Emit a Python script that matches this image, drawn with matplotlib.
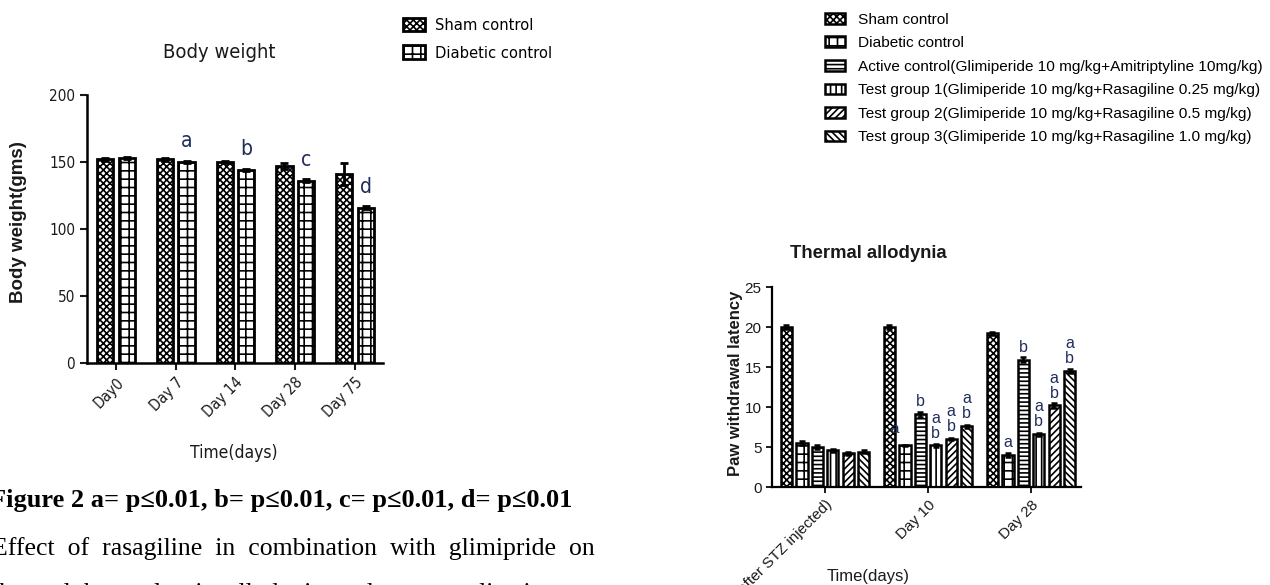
import numpy as np
import matplotlib.pyplot as plt

plt.rcParams['hatch.linewidth'] = 1.2
narrow = ['DejaVu Sans', 'Liberation Sans']
arial = ['Liberation Sans', 'DejaVu Sans']
serif = ['Liberation Serif', 'DejaVu Serif']
ink = '#1a1a1a'
lettc = '#1f2d5c'

# body weight data
bw_days = ['Day0', 'Day 7', 'Day 14', 'Day 28', 'Day 75']
bw_sham = [152, 152, 150, 147, 141]
bw_sham_err = [1, 1, 1, 2, 8]
bw_diab = [153, 150, 144, 136, 116]
bw_diab_err = [1, 1, 1, 1, 1]
bw_letters = ['', 'a', 'b', 'c', 'd']

# thermal allodynia data
ta_days = ['Day 0(after STZ injected)', 'Day 10', 'Day 28']
ta_groups = ['Sham control', 'Diabetic control',
             'Active control(Glimiperide 10 mg/kg+Amitriptyline 10mg/kg)',
             'Test group 1(Glimiperide 10 mg/kg+Rasagiline 0.25 mg/kg)',
             'Test group 2(Glimiperide 10 mg/kg+Rasagiline 0.5 mg/kg)',
             'Test group 3(Glimiperide 10 mg/kg+Rasagiline 1.0 mg/kg)']
ta_vals = [[20.0, 20.0, 19.2],
           [5.5, 5.2, 4.0],
           [5.0, 9.1, 15.9],
           [4.6, 5.2, 6.6],
           [4.2, 6.0, 10.2],
           [4.4, 7.6, 14.5]]
ta_err = [[0.2, 0.2, 0.2],
          [0.2, 0.1, 0.3],
          [0.2, 0.3, 0.3],
          [0.2, 0.2, 0.2],
          [0.2, 0.1, 0.3],
          [0.2, 0.2, 0.2]]
ta_letters = [['', '', ''],
              ['', '', 'a'],
              ['', 'b', 'b'],
              ['', 'a\nb', 'a\nb'],
              ['', 'a\nb', 'a\nb'],
              ['', 'a\nb', 'a\nb']]
hatches = ['xxxxx', '++', '----', '|||', '/////', '\\\\\\\\\\']

fig = plt.figure(figsize=(12.7, 5.85), dpi=100)

def nfont(size, weight='normal'):
    return dict(family=narrow, stretch='condensed', size=size, weight=weight)

# ---- left: body weight
ax = fig.add_axes([0.0685, 0.3795, 0.2331, 0.4581])
x = np.arange(len(bw_days))
w = 0.27
ax.bar(x - 0.18, bw_sham, w, yerr=bw_sham_err, color='white', edgecolor='black',
       linewidth=2, hatch=hatches[0], label='Sham control',
       error_kw=dict(elinewidth=2, capsize=3, capthick=2))
ax.bar(x + 0.18, bw_diab, w, yerr=bw_diab_err, color='white', edgecolor='black',
       linewidth=2, hatch=hatches[1], label='Diabetic control',
       error_kw=dict(elinewidth=2, capsize=3, capthick=2))
for i, l in enumerate(bw_letters):
    if l:
        ax.text(x[i] + 0.18, bw_diab[i] + 8, l, ha='center', va='bottom',
                color=lettc, **nfont(15))
ax.set_xlim(-0.486, 4.47)
ax.set_ylim(0, 200)
ax.set_yticks([0, 50, 100, 150, 200])
ax.set_xticks(x)
ax.set_xticklabels(bw_days, rotation=45, ha='right', rotation_mode='anchor', **nfont(11))
for t in ax.get_yticklabels():
    t.set_family(narrow)
    t.set_stretch('condensed')
    t.set_fontsize(11)
ax.spines[['top', 'right']].set_visible(False)
ax.spines[['left', 'bottom']].set_linewidth(1.8)
ax.tick_params(width=1.5, length=5, colors=ink)
fig.text(0.0142, 0.62, 'Body weight(gms)', rotation=90, ha='center', va='center',
         fontsize=13.5, fontweight='bold', family=arial, color=ink)
fig.text(0.1843, 0.226, 'Time(days)', ha='center', va='center', color=ink, **nfont(12.5))
fig.text(0.1724, 0.911, 'Body weight', ha='center', va='center', color=ink, **nfont(14.5))
fig.legend(*ax.get_legend_handles_labels(), loc='upper left',
           bbox_to_anchor=(0.306, 0.995), frameon=False,
           prop=dict(family=narrow, stretch='condensed', size=11.8),
           handlelength=1.3, handleheight=0.9, labelspacing=0.75, handletextpad=0.6)

# ---- right: thermal allodynia
ax2 = fig.add_axes([0.6079, 0.1675, 0.2433, 0.3419])
xg = np.arange(len(ta_days))
step = 0.15
bw2 = 0.11
handles = []
for k in range(len(ta_groups)):
    pos = xg + (k - 2.5) * step
    b = ax2.bar(pos, ta_vals[k], bw2, yerr=ta_err[k], color='white', edgecolor='black',
                linewidth=1.8, hatch=hatches[k], label=ta_groups[k],
                error_kw=dict(elinewidth=1.8, capsize=2.5, capthick=1.8))
    handles.append(b)
    for j in range(len(ta_days)):
        l = ta_letters[k][j]
        if l:
            ax2.text(pos[j], ta_vals[k][j] + 0.6, l, ha='center', va='bottom',
                     fontsize=11.5, color=lettc, family=arial, linespacing=1.0)
ax2.text(1 - 2.5 * step + 0.05, 6.4, 'a', ha='center', va='bottom', fontsize=11,
         color=lettc, family=arial)
ax2.set_xlim(-0.515, 2.485)
ax2.set_ylim(0, 25)
ax2.set_yticks([0, 5, 10, 15, 20, 25])
ax2.set_xticks(xg)
ax2.set_xticklabels(ta_days, rotation=45, ha='right', rotation_mode='anchor',
                    family=arial, fontsize=11)
for t in ax2.get_yticklabels():
    t.set_family(arial)
    t.set_fontsize(11)
ax2.spines[['top', 'right']].set_visible(False)
ax2.spines[['left', 'bottom']].set_linewidth(1.6)
ax2.tick_params(width=1.4, length=4, colors=ink)
fig.text(0.5795, 0.345, 'Paw withdrawal latency', rotation=90, ha='center', va='center',
         fontsize=12, fontweight='bold', family=arial, color=ink)
fig.text(0.6835, 0.015, 'Time(days)', ha='center', va='center', fontsize=12,
         family=arial, color=ink)
fig.text(0.684, 0.566, 'Thermal allodynia', ha='center', va='center', fontsize=13.3,
         fontweight='bold', family=arial, color=ink)
fig.legend(handles, ta_groups, loc='upper left', bbox_to_anchor=(0.639, 1.002),
           frameon=False, prop={'family': arial, 'size': 11.1}, handlelength=1.3,
           handleheight=0.7, labelspacing=0.62, handletextpad=0.8)

# ---- page text
fig.text(-0.008, 0.145, 'Figure 2 a= p\u22640.01, b= p\u22640.01, c= p\u22640.01, d= p\u22640.01',
         ha='left', va='center', fontsize=19, fontweight='bold', family=serif, color='black')
fig.text(-0.006, 0.063, 'Effect  of  rasagiline  in  combination  with  glimipride  on',
         ha='left', va='center', fontsize=18.5, family=serif, color='black')
fig.text(-0.006, -0.016, 'thermal  hyperalgesia  allodynia  and  post  application',
         ha='left', va='center', fontsize=18.5, family=serif, color='black')

plt.savefig('out.png', dpi=100)
